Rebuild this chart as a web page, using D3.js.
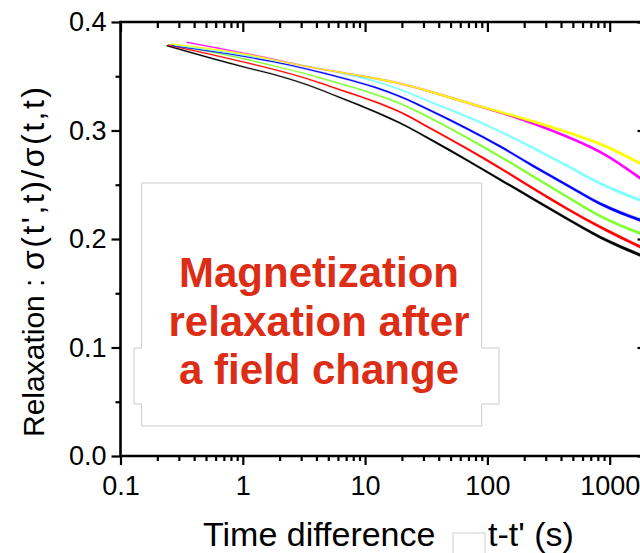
<!DOCTYPE html>
<html>
<head>
<meta charset="utf-8">
<script src="https://cdn.jsdelivr.net/npm/d3@7"></script>
<style>
  html, body { margin: 0; padding: 0; background: #fff; }
  svg { display: block; font-family: "Liberation Sans", Arial, Helvetica, sans-serif; }
</style>
</head>
<body>
<svg id="chart" width="640" height="553"></svg>
<script>
// ---- data ----
const seriesNames = ["black", "red", "green", "blue", "cyan", "magenta", "yellow"];
const seriesColors = ["#000000", "#ff0000", "#80ff33", "#0000ff", "#80ffff", "#ff00ff", "#ffff00"];
const startTimes = [0.239, 0.245, 0.254, 0.264, 0.274, 0.347, 0.262];
const times = [1.1, 1.74, 3.32, 6.35, 12.2, 19.3, 36.1, 67.7, 127, 237, 445, 833, 1770];
const blackValues   = [0.3782, 0.3576, 0.3521, 0.3424, 0.3300, 0.3171, 0.3069, 0.2903, 0.2728, 0.2548, 0.2369, 0.2189, 0.2018, 0.1853];
const redValues     = [0.3788, 0.3622, 0.3567, 0.3479, 0.3373, 0.3263, 0.3171, 0.3005, 0.2834, 0.2654, 0.2465, 0.2281, 0.2111, 0.1929];
const greenValues   = [0.3795, 0.3653, 0.3599, 0.3521, 0.3429, 0.3332, 0.3249, 0.3101, 0.2935, 0.2760, 0.2576, 0.2392, 0.2212, 0.2053];
const blueValues    = [0.3783, 0.3677, 0.3636, 0.3567, 0.3488, 0.3396, 0.3313, 0.3171, 0.3018, 0.2853, 0.2673, 0.2498, 0.2327, 0.2175];
const cyanValues    = [0.3788, 0.3689, 0.3650, 0.3594, 0.3530, 0.3452, 0.3378, 0.3253, 0.3129, 0.2991, 0.2839, 0.2677, 0.2513, 0.2359];
const magentaValues = [0.3813, 0.3705, 0.3659, 0.3590, 0.3535, 0.3479, 0.3433, 0.3350, 0.3258, 0.3166, 0.3065, 0.2945, 0.2802, 0.2562];
const yellowValues  = [0.3797, 0.3699, 0.3654, 0.3590, 0.3535, 0.3479, 0.3433, 0.3350, 0.3258, 0.3171, 0.3083, 0.2986, 0.2876, 0.2698];
const allValues = [blackValues, redValues, greenValues, blueValues, cyanValues, magentaValues, yellowValues];

const xMajorTicks = [0.1, 1, 10, 100, 1000];
const yMajorTicks = [0.0, 0.1, 0.2, 0.3, 0.4];
const yMinorTicks = [0.05, 0.15, 0.25, 0.35];
const xDomain = [0.1, 2000];
const yDomain = [0, 0.4];

const yTitleMain = "Relaxation :";
const yTitleRatio = "σ(t',t)/σ(t,t)";
const xTitleLeft = "Time difference";
const xTitleRight = "t-t' (s)";
const noteLines = ["Magnetization", "relaxation after", "a field change"];

(function () {
const svg = d3.select("#chart");
const pLeft = 120.5, pRight = 646.5, pTop = 22, pBottom = 456;

const x = d3.scaleLog().domain(xDomain).range([pLeft, pRight]);
const y = d3.scaleLinear().domain(yDomain).range([pBottom, pTop]);

const xMinorTicks = xMajorTicks.flatMap(d => [2,3,4,5,6,7,8,9].map(k => d * k)).filter(v => v <= xDomain[1]);

svg.append("defs").append("clipPath").attr("id", "plotclip")
  .append("rect").attr("x", pLeft).attr("y", pTop).attr("width", pRight - pLeft).attr("height", pBottom - pTop);

// ---- curves: thin ribbons that thicken where the recorded trace gets noisy ----
const traceWidth = t => 1.1 + 1.9 * Math.max(0, Math.min(1, (Math.log10(t) - 0.5) / 2.8));
const ribbon = d3.area()
  .x(d => x(d.t))
  .y0(d => y(d.v) - traceWidth(d.t) / 2)
  .y1(d => y(d.v) + traceWidth(d.t) / 2)
  .curve(d3.curveMonotoneX);
const curves = svg.append("g").attr("clip-path", "url(#plotclip)");
seriesNames.forEach((name, i) => {
  const pts = [{t: startTimes[i], v: allValues[i][0]}].concat(times.map((t, j) => ({t, v: allValues[i][j + 1]})));
  curves.append("path").datum(pts)
    .attr("class", "series " + name)
    .attr("fill", seriesColors[i]).attr("stroke", seriesColors[i]).attr("stroke-width", 0.3)
    .attr("d", ribbon);
});

// ---- axes ----
function styleAxis(g) {
  g.select(".domain").remove();
  g.selectAll(".tick line").attr("stroke", "#000").attr("stroke-width", 2.2);
  g.selectAll(".tick text").attr("fill", "#000").attr("font-size", 27)
    .attr("font-family", "'Liberation Sans', Arial, sans-serif");
}

svg.append("g").attr("transform", `translate(0,${pBottom})`)
  .call(d3.axisBottom(x).tickValues(xMajorTicks).tickSize(9).tickPadding(11).tickFormat(d3.format("~g")))
  .call(styleAxis);
svg.append("g").attr("transform", `translate(0,${pBottom})`)
  .call(d3.axisBottom(x).tickValues(xMinorTicks).tickSize(5).tickFormat(""))
  .call(styleAxis);
svg.append("g").attr("transform", `translate(0,${pTop})`)
  .call(d3.axisTop(x).tickValues(xMajorTicks).tickSize(-10).tickFormat(""))
  .call(styleAxis);
svg.append("g").attr("transform", `translate(0,${pTop})`)
  .call(d3.axisTop(x).tickValues(xMinorTicks).tickSize(-6).tickFormat(""))
  .call(styleAxis);
svg.append("g").attr("transform", `translate(${pLeft},0)`)
  .call(d3.axisLeft(y).tickValues(yMajorTicks).tickSize(9).tickPadding(5).tickFormat(d3.format(".1f")))
  .call(styleAxis);
svg.append("g").attr("transform", `translate(${pLeft},0)`)
  .call(d3.axisLeft(y).tickValues(yMinorTicks).tickSize(5).tickFormat(""))
  .call(styleAxis);
svg.append("g").attr("transform", `translate(${pRight},0)`)
  .call(d3.axisRight(y).tickValues(yMajorTicks).tickSize(-9).tickFormat(""))
  .call(styleAxis);
svg.append("g").attr("transform", `translate(${pRight},0)`)
  .call(d3.axisRight(y).tickValues(yMinorTicks).tickSize(-5).tickFormat(""))
  .call(styleAxis);

const frame = svg.append("g").attr("stroke", "#000").attr("stroke-width", 2.6).attr("fill", "none");
frame.append("line").attr("x1", pLeft).attr("x2", pRight).attr("y1", pBottom).attr("y2", pBottom);
frame.append("line").attr("x1", pLeft).attr("x2", pRight).attr("y1", pTop).attr("y2", pTop);
frame.append("line").attr("x1", pLeft).attr("x2", pLeft).attr("y1", pTop - 1.3).attr("y2", pBottom + 1.3);
frame.append("line").attr("x1", pRight).attr("x2", pRight).attr("y1", pTop - 1.3).attr("y2", pBottom + 1.3);

// ---- annotation box ----
const bx0 = 141.7, bx1 = 481.7, by0 = 183, by1 = 426, nx0 = 134, nx1 = 499, ny0 = 348, ny1 = 404;
svg.append("path")
  .attr("d", `M${bx0},${by0}H${bx1}V${ny0}H${nx1}V${ny1}H${bx1}V${by1}H${bx0}V${ny1}H${nx0}V${ny0}H${bx0}Z`)
  .attr("fill", "#fff").attr("stroke", "#cccccc").attr("stroke-width", 1);

const note = svg.append("text")
  .attr("text-anchor", "middle").attr("fill", "#dc2d16")
  .attr("font-size", 42).attr("font-weight", "bold")
  .attr("font-family", "'Liberation Sans', Arial, sans-serif");
noteLines.forEach((s, i) => {
  note.append("tspan").attr("x", 319).attr("y", 287 + i * 48.5).text(s);
});

// ---- axis titles ----
svg.append("text")
  .attr("x", 203).attr("y", 546)
  .attr("font-size", 34).attr("fill", "#000")
  .text(xTitleLeft);
svg.append("rect")
  .attr("x", 453).attr("y", 533).attr("width", 32).attr("height", 30)
  .attr("fill", "#fff").attr("stroke", "#d0d0d0").attr("stroke-width", 1);
svg.append("text")
  .attr("x", 488).attr("y", 546)
  .attr("font-size", 34).attr("fill", "#000")
  .text(xTitleRight);

const yt = svg.append("g").attr("transform", "translate(43.5,437) rotate(-90)");
yt.append("text").attr("x", 0).attr("y", 0).attr("font-size", 30).attr("fill", "#000").text(yTitleMain);
yt.append("text").attr("x", 167).attr("y", 0).attr("font-size", 32).attr("fill", "#000")
  .attr("textLength", 183).attr("lengthAdjust", "spacing").text(yTitleRatio);
})();
</script>
</body>
</html>
